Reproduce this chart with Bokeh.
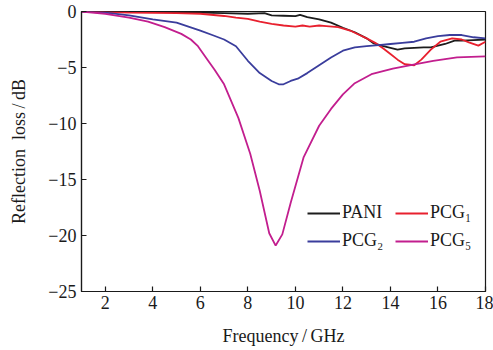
from bokeh.plotting import figure
from bokeh.models import Range1d, FixedTicker, Legend, LegendItem
from bokeh.embed import file_html
from bokeh.resources import INLINE

# ---- data ----
pani_f = [1, 2, 3, 4, 5, 6, 7, 8, 8.7, 9, 9.5, 10, 10.2, 10.5, 11, 11.5, 12, 12.5, 13, 13.3,
          13.7, 14, 14.3, 14.6, 15, 15.4, 15.7, 16, 16.3, 16.7, 17, 17.5, 18]
pani_rl = [0, 0, -0.02, -0.05, -0.05, -0.1, -0.15, -0.2, -0.15, -0.35, -0.38, -0.42, -0.3, -0.5,
           -0.7, -1.0, -1.45, -1.85, -2.4, -2.85, -3.1, -3.25, -3.4, -3.3, -3.25, -3.2, -3.2,
           -3.05, -2.9, -2.6, -2.6, -2.55, -2.5]

pcg1_f = [1, 2, 3, 4, 5, 6, 7, 7.5, 8, 8.5, 9, 9.5, 10, 10.3, 10.6, 11, 11.3, 11.8, 12.3, 12.7,
          13, 13.4, 13.7, 14.0, 14.3, 14.6, 15.0, 15.3, 15.7, 16.1, 16.6, 17.0, 17.3, 17.7, 18]
pcg1_rl = [0, -0.05, -0.1, -0.12, -0.15, -0.2, -0.4, -0.55, -0.65, -0.9, -1.1, -1.25, -1.35,
           -1.25, -1.35, -1.25, -1.3, -1.4, -1.7, -2.1, -2.4, -2.85, -3.3, -3.8, -4.3, -4.7,
           -4.8, -4.3, -3.4, -2.7, -2.4, -2.5, -2.75, -3.05, -2.7]

pcg2_f = [1, 2, 3, 4, 5, 6, 6.5, 7, 7.5, 8, 8.5, 9, 9.3, 9.5, 9.8, 10.1, 10.5, 11, 11.5, 12,
          12.5, 13, 13.5, 14, 14.5, 15, 15.5, 16, 16.5, 17, 17.5, 18]
pcg2_rl = [0, -0.1, -0.35, -0.7, -1.0, -1.7, -2.1, -2.5, -3.1, -4.4, -5.5, -6.2, -6.5, -6.5,
           -6.2, -6.0, -5.5, -4.8, -4.1, -3.5, -3.2, -3.1, -3.0, -2.9, -2.8, -2.7, -2.4, -2.2,
           -2.1, -2.1, -2.3, -2.4]

pcg5_f = [1, 2, 2.4, 3, 3.8, 4.5, 5.2, 5.6, 5.9, 6.3, 6.6, 7, 7.6, 8.1, 8.5, 8.9, 9.17, 9.45, 9.8,
          10.35, 11.0, 11.5, 12.0, 12.5, 13.2, 14.1, 14.8, 15.8, 16.8, 18]
pcg5_rl = [0, -0.2, -0.35, -0.55, -0.9, -1.4, -2.0, -2.5, -3.1, -4.3, -5.2, -6.5, -9.5, -12.7,
           -16.0, -19.8, -20.9, -19.9, -17.1, -13.0, -10.2, -8.7, -7.4, -6.4, -5.6, -5.1, -4.8,
           -4.4, -4.1, -4.0]

x_ticks = [2, 4, 6, 8, 10, 12, 14, 16, 18]
y_ticks = [0, -5, -10, -15, -20, -25]
y_tick_labels = ["0", "\u22125", "\u221210", "\u221215", "\u221220", "\u221225"]

names = ["PANI", "PCG\u2081", "PCG\u2082", "PCG\u2085"]
colors = ["#1c1c1c", "#e8202e", "#3a3d9c", "#c21e8e"]

FONT = "Liberation Serif"

p = figure(width=493, height=350, output_backend="svg", toolbar_location=None,
           x_range=Range1d(1, 18), y_range=Range1d(-25, 0),
           min_border_left=81, min_border_top=11, min_border_right=8, min_border_bottom=59)
p.frame_width = 404
p.frame_height = 280

p.xgrid.visible = False
p.ygrid.visible = False
p.outline_line_color = "#1a1a1a"
p.outline_line_width = 1.2
p.background_fill_color = "white"
p.border_fill_color = "white"

for ax in (p.xaxis[0], p.yaxis[0]):
    ax.major_tick_in = 5
    ax.major_tick_out = 0
    ax.minor_tick_line_color = None
    ax.axis_line_color = "#1a1a1a"
    ax.axis_line_width = 1.2
    ax.major_tick_line_color = "#1a1a1a"
    ax.major_tick_line_width = 1.2
    ax.major_label_text_font = FONT
    ax.major_label_text_font_size = "18px"
    ax.major_label_text_color = "#1a1a1a"
    ax.axis_label_text_font = FONT
    ax.axis_label_text_font_size = "18px"
    ax.axis_label_text_font_style = "normal"
    ax.axis_label_text_color = "#1a1a1a"

p.xaxis[0].ticker = FixedTicker(ticks=x_ticks)
p.yaxis[0].ticker = FixedTicker(ticks=y_ticks)
p.yaxis[0].major_label_overrides = {t: l for t, l in zip(y_ticks, y_tick_labels)}
p.xaxis[0].major_label_standoff = 4
p.yaxis[0].major_label_standoff = 5
p.xaxis[0].axis_label = "Frequency\u2009/\u2009GHz"
p.yaxis[0].axis_label = "Reflection\u2002loss\u2009/\u2009dB"
p.xaxis[0].axis_label_standoff = 14
p.yaxis[0].axis_label_standoff = 16

series = [(pani_f, pani_rl), (pcg1_f, pcg1_rl), (pcg2_f, pcg2_rl), (pcg5_f, pcg5_rl)]
renderers = []
for (f, rl), c in zip(series, colors):
    r = p.line(f, rl, line_color=c, line_width=1.8)
    renderers.append(r)

# column-major legend: first column PANI / PCG2, second column PCG1 / PCG5
order = [0, 2, 1, 3]
items = [LegendItem(label=names[i], renderers=[renderers[i]]) for i in order]
legend = Legend(items=items, ncols=2, location=(226, 40),
                border_line_color=None, background_fill_alpha=0,
                padding=0, margin=0, spacing=7, glyph_width=33, glyph_height=20,
                label_height=20, label_width=46, label_standoff=2,
                label_text_font=FONT, label_text_font_size="18px",
                label_text_color="#1a1a1a")
p.add_layout(legend, "center")

open("out.html", "w").write(file_html(p, INLINE))
